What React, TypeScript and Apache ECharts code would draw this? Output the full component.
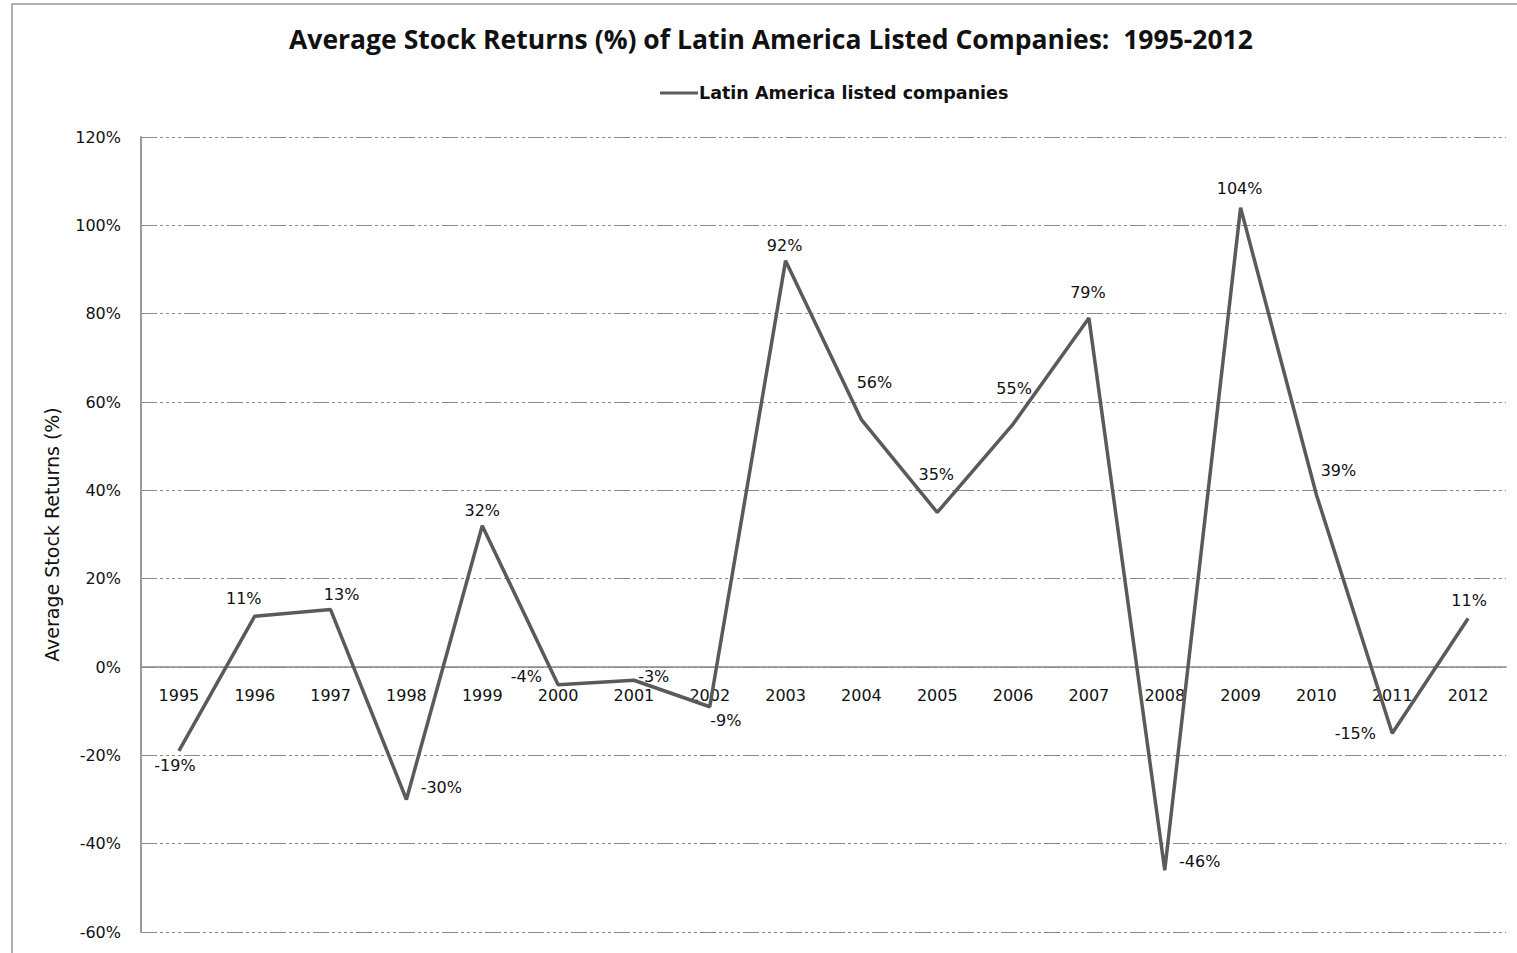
import React, { useEffect, useRef } from "react";
import * as echarts from "echarts";

const years = ["1995","1996","1997","1998","1999","2000","2001","2002","2003","2004","2005","2006","2007","2008","2009","2010","2011","2012"];
const returns = [-19, 11.5, 13, -30, 32, -4, -3, -9, 92, 56, 35, 55, 79, -46, 104, 39, -15, 11];
const labelTexts = ["-19%","11%","13%","-30%","32%","-4%","-3%","-9%","92%","56%","35%","55%","79%","-46%","104%","39%","-15%","11%"];
const yTicks = [-60, -40, -20, 0, 20, 40, 60, 80, 100, 120];
const seriesName = "Latin America listed companies";

// label placement per point: [position, dx, dy]
const labelPlacement: [string, number, number][] = [
  ["bottom", -4, 0], ["top", -11, -3], ["top", 11, -1], ["right", 8, -12], ["top", 0, -1],
  ["left", -10, -8], ["right", -2, -4], ["bottom", 16, -1], ["top", -1, -1], ["right", -11, -37],
  ["top", -1, -24], ["top", 1, -21], ["top", -1, -11], ["right", 8, -9], ["top", -1, -5],
  ["right", -2, -24], ["left", -10, 0], ["top", 1, -4],
];

export default function App() {
  const ref = useRef<HTMLDivElement>(null);
  useEffect(() => {
    const chart = echarts.init(ref.current!, null, { renderer: "svg" });
    const font = "'Open Sans', sans-serif";
    const numFont = "'DejaVu Sans', sans-serif";
    const gridDash = [16, 3, 3, 3, 3, 3, 3, 3, 3, 3];
    const gridTop = 137;
    const gridBottom = 21;
    const plotH = 953 - gridTop - gridBottom;
    const yMin = yTicks[0];
    const yMax = yTicks[yTicks.length - 1];
    const zeroOffset = -(plotH * (0 - yMin)) / (yMax - yMin);
    chart.setOption({
      animation: false,
      backgroundColor: "#ffffff",
      textStyle: { fontFamily: font },
      graphic: [
        {
          type: "rect",
          shape: { x: 12, y: 4, width: 1520, height: 970 },
          style: { fill: "none", stroke: "#b0b0b0", lineWidth: 2 },
          silent: true,
        },
      ],
      title: {
        text: "Average Stock Returns (%) of Latin America Listed Companies:  1995-2012",
        left: 766,
        textAlign: "center",
        top: 20,
        textStyle: { fontFamily: font, fontSize: 26.5, fontWeight: "bold", color: "#111" },
      },
      legend: {
        data: [seriesName],
        left: 655,
        top: 79,
        itemWidth: 38,
        itemHeight: 3,
        itemGap: 4,
        icon: "rect",
        textStyle: { fontFamily: numFont, fontSize: 17.5, fontWeight: "bold", color: "#111", padding: [0, 0, 0, -4] },
      },
      grid: { left: 141, top: gridTop, right: 11, bottom: gridBottom, containLabel: false },
      xAxis: {
        type: "category",
        data: years,
        boundaryGap: true,
        offset: zeroOffset,
        axisLine: { onZero: false, lineStyle: { color: "#8a8a8a", width: 1.5 } },
        axisTick: { show: false },
        axisLabel: { fontFamily: numFont, fontSize: 16, color: "#111", margin: 20 },
        splitLine: { show: false },
      },
      yAxis: {
        type: "value",
        min: yMin,
        max: yMax,
        interval: 20,
        name: "Average Stock Returns (%)",
        nameLocation: "middle",
        nameGap: 80,
        nameTextStyle: { fontFamily: numFont, fontSize: 19, color: "#111" },
        axisLine: { show: true, lineStyle: { color: "#9a9a9a", width: 2 } },
        axisTick: { show: false },
        axisLabel: { fontFamily: numFont, fontSize: 16, color: "#111", margin: 20, formatter: (v: number) => v + "%" },
        splitLine: { show: true, lineStyle: { color: "#8a8a8a", width: 1.2, type: gridDash } },
      },
      series: [
        {
          name: seriesName,
          type: "line",
          data: returns.map((v, i) => ({
            value: v,
            label: {
              show: true,
              position: labelPlacement[i][0],
              offset: [labelPlacement[i][1], labelPlacement[i][2]],
              formatter: labelTexts[i],
            },
          })),
          symbol: "circle",
          symbolSize: 0.5,
          showSymbol: true,
          lineStyle: { color: "#5a5a5a", width: 3.5 },
          itemStyle: { color: "#5a5a5a" },
          label: { show: true, fontFamily: numFont, fontSize: 16, color: "#111", distance: 6 },
        },
      ],
    });
    return () => chart.dispose();
  }, []);
  return <div ref={ref} style={{ width: 1517, height: 953, position: "absolute", left: 0, top: 0 }} />;
}
